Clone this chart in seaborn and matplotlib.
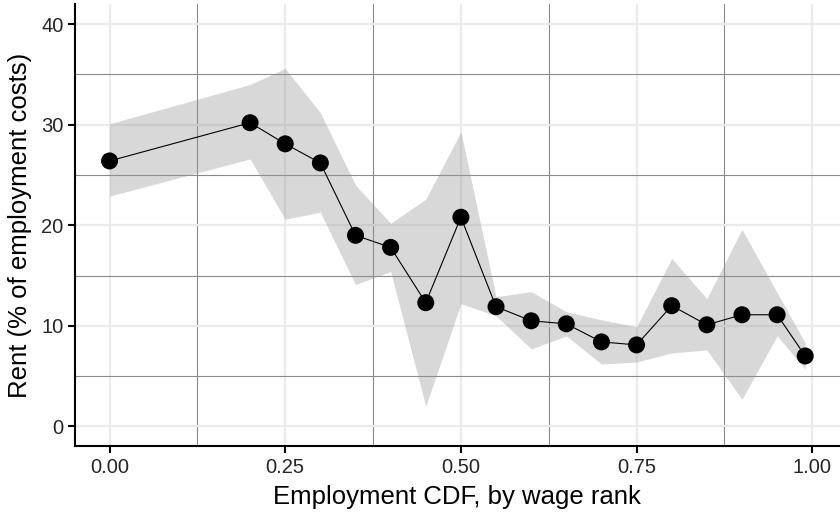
import numpy as np
import pandas as pd
import matplotlib
matplotlib.use("Agg")
import matplotlib.pyplot as plt
import seaborn as sns
from matplotlib.ticker import AutoMinorLocator

# employment CDF (by wage rank) and rent share with its band
cdf = [0.00, 0.20, 0.25, 0.30, 0.35, 0.40, 0.45, 0.50, 0.55, 0.60,
       0.65, 0.70, 0.75, 0.80, 0.85, 0.90, 0.95, 0.99]
rent = [26.4, 30.2, 28.1, 26.2, 19.0, 17.8, 12.3, 20.8, 11.9, 10.5,
        10.2, 8.4, 8.1, 12.0, 10.1, 11.1, 11.1, 7.0]
rent_hi = [30.1, 34.0, 35.6, 31.2, 24.0, 20.2, 22.6, 29.3, 12.9, 13.4,
           11.4, 10.6, 9.9, 16.7, 12.7, 19.6, 13.3, 8.3]
rent_lo = [22.9, 26.6, 20.6, 21.3, 14.1, 15.4, 2.0, 12.2, 11.0, 7.7,
           9.0, 6.2, 6.4, 7.3, 7.6, 2.7, 9.0, 5.7]

df = pd.DataFrame({"cdf": cdf, "rent": rent, "hi": rent_hi, "lo": rent_lo})

sns.set_theme(style="white")
plt.rcParams["font.family"] = ["Liberation Sans", "DejaVu Sans"]

fig = plt.figure(figsize=(8.4, 5.12), dpi=100)
ax = fig.add_axes([0.089, 0.128, 0.911, 0.864])

ax.fill_between(df["cdf"], df["lo"], df["hi"], color="#999999", alpha=0.38,
                linewidth=0, zorder=2)
sns.lineplot(data=df, x="cdf", y="rent", color="black", linewidth=0.8,
             ax=ax, zorder=3)
sns.scatterplot(data=df, x="cdf", y="rent", color="black", s=150,
                edgecolor="none", ax=ax, zorder=4)

ax.set_xlim(-0.0495, 1.0395)
ax.set_ylim(-2, 42)
ax.set_xticks([0, 0.25, 0.5, 0.75, 1.0])
ax.set_xticklabels(["0.00", "0.25", "0.50", "0.75", "1.00"])
ax.set_yticks([0, 10, 20, 30, 40])
ax.xaxis.set_minor_locator(AutoMinorLocator(2))
ax.yaxis.set_minor_locator(AutoMinorLocator(2))

ax.grid(which="major", color="#EBEBEB", linewidth=1.6, zorder=0)
ax.grid(which="minor", color="#8A8A8A", linewidth=0.8, zorder=0)
ax.set_axisbelow(True)

for side in ["top", "right"]:
    ax.spines[side].set_visible(False)
for side in ["left", "bottom"]:
    ax.spines[side].set_color("black")
    ax.spines[side].set_linewidth(1.5)

ax.tick_params(which="major", length=5, width=1.5, color="black",
               labelsize=14.5, labelcolor="#262626", pad=3,
               left=True, bottom=True)
ax.tick_params(which="minor", length=0)

ax.set_xlabel("Employment CDF, by wage rank", fontsize=18.5, color="black",
              labelpad=6)
ax.set_ylabel("Rent (% of employment costs)", fontsize=18.5, color="black",
              labelpad=7)

fig.savefig("out.png", dpi=100)
